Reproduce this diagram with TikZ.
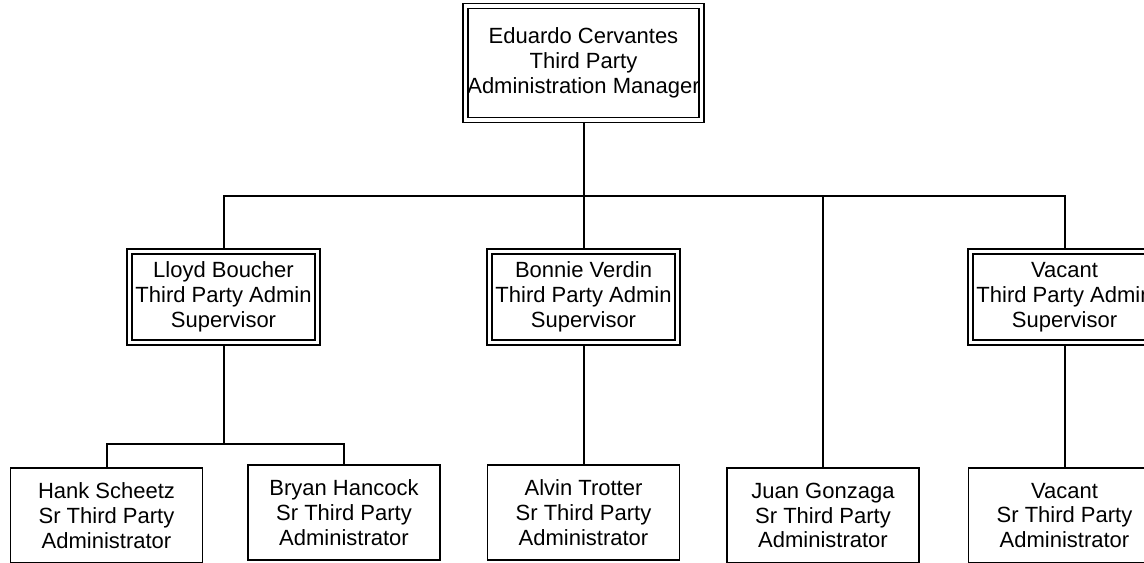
\documentclass[tikz,border=0pt]{standalone}
\usepackage{fontspec}
\setmainfont{Liberation Sans}
\usepackage{tikz}
\usetikzlibrary{positioning,calc,backgrounds}

\begin{document}
\begin{tikzpicture}[x=0.5pt, y=-0.5pt,
  boss/.style={rectangle, draw=black, line width=0.75pt, double=white, double distance=1.75pt, fill=white, minimum width=118pt, minimum height=57pt, inner sep=0pt, align=center, font=\fontsize{11}{12.4}\selectfont},
  sup/.style={boss, minimum width=94pt, minimum height=45.5pt},
  staff/.style={rectangle, draw=black, line width=0.9pt, fill=white, minimum width=96pt, minimum height=47.5pt, inner sep=0pt, align=center, font=\fontsize{11}{12.4}\selectfont},
  conn/.style={draw=black, line width=1pt}
]
\clip (0,0) rectangle (1144,562);

% manager
\node[boss] (mgr) at (583.5,63) {Eduardo Cervantes\\Third Party\\Administration Manager};

% supervisors
\node[sup] (lloyd) at (223.5,297) {Lloyd Boucher\\Third Party Admin\\Supervisor};
\node[sup] (bonnie) at (583.5,297) {Bonnie Verdin\\Third Party Admin\\Supervisor};
\node[sup] (vacsup) at (1064.5,297) {Vacant\\Third Party Admin\\Supervisor};

% staff
\node[staff] (hank) at (106.5,515.5) {Hank Scheetz\\Sr Third Party\\Administrator};
\node[staff] (bryan) at (344,512.5) {Bryan Hancock\\Sr Third Party\\Administrator};
\node[staff] (alvin) at (583.5,512.5) {Alvin Trotter\\Sr Third Party\\Administrator};
\node[staff] (juan) at (823,515.5) {Juan Gonzaga\\Sr Third Party\\Administrator};
\node[staff] (vacant) at (1064.5,515.5) {Vacant\\Sr Third Party\\Administrator};

\coordinate (bus) at (583.5,196);
\coordinate (lbus) at (223.5,444);

\begin{scope}[on background layer]
\draw[conn] (mgr) -- (bonnie);
\draw[conn] (lloyd.north) |- (bus) -| (vacsup.north);
\draw[conn] (juan.north) -- (juan.north |- bus);
\draw[conn] (lloyd) -- (lbus);
\draw[conn] (hank.north) |- (lbus) -| (bryan.north);
\draw[conn] (bonnie) -- (alvin);
\draw[conn] (vacsup) -- (vacant);
\end{scope}
\end{tikzpicture}
\end{document}
